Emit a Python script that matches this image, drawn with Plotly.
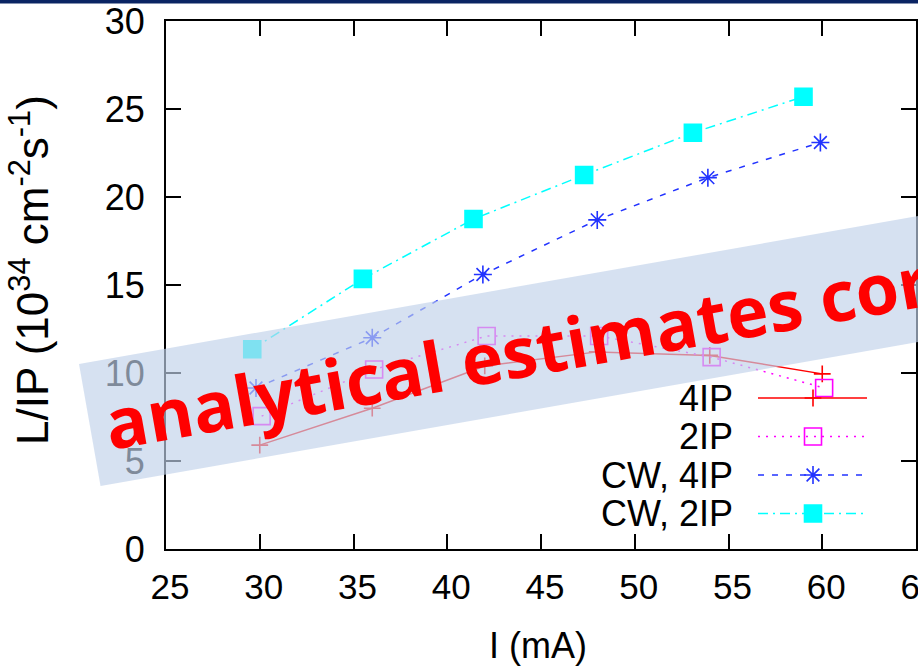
import math
import plotly.graph_objects as go

# Luminosity per IP (10^34 cm^-2 s^-1) versus beam current I (mA)
I_4ip = [30.0, 36.0, 42.0, 48.0, 54.0, 60.0]
L_4ip = [5.9, 8.0, 10.4, 11.2, 11.0, 9.95]

I_2ip = [30.1, 36.1, 42.1, 48.1, 54.1, 60.1]
L_2ip = [7.55, 10.2, 12.1, 12.1, 10.9, 9.15]

I_cw4ip = [29.8, 36.0, 41.9, 48.0, 53.9, 59.9]
L_cw4ip = [9.15, 12.0, 15.6, 18.7, 21.1, 23.1]

I_cw2ip = [29.6, 35.5, 41.4, 47.3, 53.1, 59.0]
L_cw2ip = [11.35, 15.35, 18.75, 21.25, 23.65, 25.7]

series_names = ["4IP", "2IP", "CW, 4IP", "CW, 2IP"]
x_ticks = [25, 30, 35, 40, 45, 50, 55, 60, 65]
y_ticks = [0, 5, 10, 15, 20, 25, 30]

banner_text = "analytical estimates cor"

# ---- layout geometry (pixels) ----
W, H = 918, 667
PLOT_L, PLOT_R, PLOT_T, PLOT_B = 166, 916, 21, 549
FONT = "Liberation Sans, Arial, Helvetica, sans-serif"


def paper_x(px):
    return (px - PLOT_L) / (PLOT_R - PLOT_L)


def paper_y(py):
    return (PLOT_B - py) / (PLOT_B - PLOT_T)


styles = [
    dict(color="#ff0000", dash="solid", symbol="cross-thin-open", size=12),
    dict(color="#ff00ff", dash="2px,6px", symbol="square-open", size=17),
    dict(color="#2233ff", dash="6px,8px", symbol="asterisk-open", size=15),
    dict(color="#00ffff", dash="10px,5px,2px,5px", symbol="square", size=17),
]
xs = [I_4ip, I_2ip, I_cw4ip, I_cw2ip]
ys = [L_4ip, L_2ip, L_cw4ip, L_cw2ip]

fig = go.Figure()

for name, x, y, st in zip(series_names, xs, ys, styles):
    fig.add_trace(go.Scatter(
        x=x, y=y, name=name, mode="lines+markers",
        line=dict(color=st["color"], width=1.5, dash=st["dash"]),
        marker=dict(symbol=st["symbol"], size=st["size"], color=st["color"],
                    line=dict(color=st["color"], width=1.6)),
        showlegend=False, cliponaxis=False,
    ))

# ---- key (text on the left, sample on the right) drawn on an overlay axis in paper units ----
KEY_TEXT_RIGHT = 735
KEY_LINE_X0, KEY_LINE_X1, KEY_MARK_X = 758, 867, 813
KEY_ROWS = [398, 436.5, 475, 513.5]

annotations = []
for name, st, row in zip(series_names, styles, KEY_ROWS):
    fig.add_trace(go.Scatter(
        x=[paper_x(KEY_LINE_X0), paper_x(KEY_LINE_X1)], y=[paper_y(row)] * 2,
        xaxis="x2", yaxis="y2", mode="lines",
        line=dict(color=st["color"], width=1.5, dash=st["dash"]),
        showlegend=False, hoverinfo="skip",
    ))
    fig.add_trace(go.Scatter(
        x=[paper_x(KEY_MARK_X)], y=[paper_y(row)],
        xaxis="x2", yaxis="y2", mode="markers",
        marker=dict(symbol=st["symbol"], size=st["size"], color=st["color"],
                    line=dict(color=st["color"], width=1.6)),
        showlegend=False, hoverinfo="skip",
    ))
    annotations.append(dict(
        x=paper_x(KEY_TEXT_RIGHT), y=paper_y(row), xref="paper", yref="paper",
        text=name, showarrow=False, xanchor="right", yanchor="middle",
        font=dict(family=FONT, size=36, color="black"),
    ))

# axis titles
annotations.append(dict(
    x=paper_x(538), y=paper_y(645), xref="paper", yref="paper",
    text="I (mA)", showarrow=False, xanchor="center", yanchor="middle",
    font=dict(family=FONT, size=36, color="black"),
))
annotations.append(dict(
    x=paper_x(29), y=paper_y(270), xref="paper", yref="paper",
    text="L/IP (10<sup>34</sup> cm<sup>-2</sup>s<sup>-1</sup>)", textangle=-90,
    showarrow=False, xanchor="center", yanchor="middle",
    font=dict(family=FONT, size=44, color="black"),
))

# ---- tilted translucent banner with red overlay text ----
ANG = math.radians(10)
BX, BY = 79, 364          # upper-left corner of banner
BLEN, BH = 980, 124
d = (math.cos(ANG), -math.sin(ANG))
n = (math.sin(ANG), math.cos(ANG))
corners = [
    (BX, BY),
    (BX + BLEN * d[0], BY + BLEN * d[1]),
    (BX + BLEN * d[0] + BH * n[0], BY + BLEN * d[1] + BH * n[1]),
    (BX + BH * n[0], BY + BH * n[1]),
]
path = "M " + " L ".join(f"{paper_x(px):.5f},{paper_y(py):.5f}" for px, py in corners) + " Z"

shapes = [
    dict(type="path", path=path, xref="paper", yref="paper", layer="above",
         fillcolor="rgba(193,209,234,0.66)", line=dict(width=0)),
    dict(type="rect", xref="paper", yref="paper", layer="above",
         x0=paper_x(-5), x1=paper_x(W + 5), y0=paper_y(0), y1=paper_y(3.5),
         fillcolor="#0a2463", line=dict(width=0)),
]

annotations.append(dict(
    x=paper_x(517), y=paper_y(351), xref="paper", yref="paper",
    text=banner_text, textangle=-10, showarrow=False,
    xanchor="center", yanchor="middle",
    font=dict(family="Open Sans, sans-serif", size=70, color="#ff0000", weight="bold"),
))

axis_common = dict(
    ticks="inside", ticklen=15, tickwidth=2, tickcolor="black",
    showline=True, linewidth=2, linecolor="black", mirror="ticks",
    showgrid=False, zeroline=False, automargin=False,
)

fig.update_layout(
    width=W, height=H,
    margin=dict(l=PLOT_L, r=W - PLOT_R, t=PLOT_T, b=H - PLOT_B, pad=0, autoexpand=False),
    paper_bgcolor="white", plot_bgcolor="white",
    xaxis=dict(range=[25, 65], tickvals=x_ticks, ticklabelstandoff=6, ticklabelshift=4,
               ticklabeloverflow="allow",
               tickfont=dict(family=FONT, size=35, color="black"), **axis_common),
    yaxis=dict(range=[0, 30], tickvals=y_ticks, ticklabelstandoff=12,
               tickfont=dict(family=FONT, size=36, color="black"), **axis_common),
    xaxis2=dict(range=[0, 1], overlaying="x", visible=False),
    yaxis2=dict(range=[0, 1], overlaying="y", visible=False),
    shapes=shapes,
    annotations=annotations,
    showlegend=False,
)

fig.write_html("out.html")
